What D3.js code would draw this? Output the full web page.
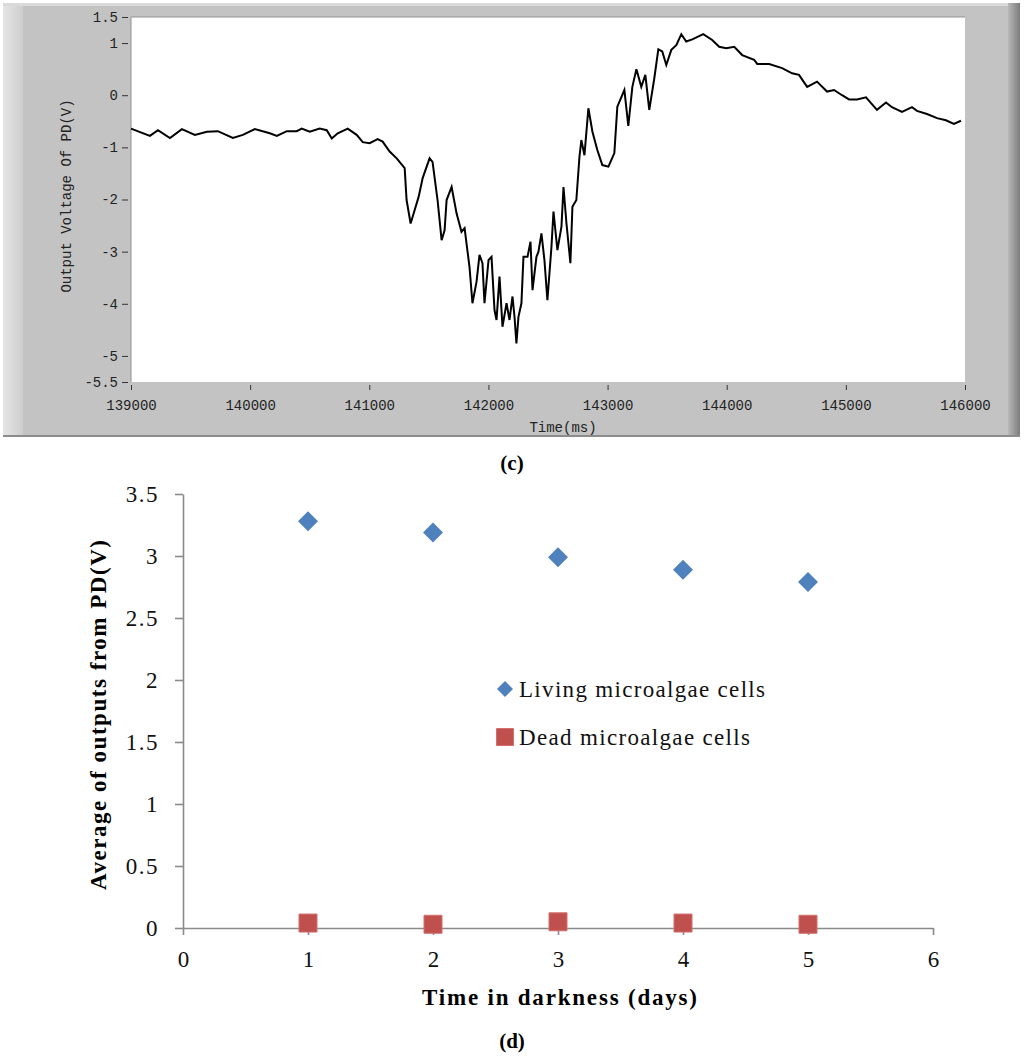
<!DOCTYPE html>
<html><head><meta charset="utf-8">
<script src="https://cdn.jsdelivr.net/npm/d3@7"></script>
<style>
html,body{margin:0;padding:0;background:#fff;}
svg{display:block;}
</style></head>
<body>
<svg id="chart" width="1024" height="1061"></svg>
<script>
// ---------- Panel (c) data: PD output trace ----------
const traceTime = [139000,139159,139226,139327,139427,139536,139637,139729,139855,139939,
140039,140165,140224,140308,140391,140433,140500,140584,140643,140685,140735,140819,140894,140945,
141003,141070,141112,141171,141230,141297,141313,141347,141381,141414,141448,141506,141531,141573,
141607,141632,141649,141691,141733,141774,141800,141816,141841,141866,141900,141925,141950,141967,
142001,142026,142051,142068,142093,142118,142152,142177,142202,142219,142235,142252,142277,142294,
142328,142353,142370,142403,142420,142445,142470,142495,142529,142546,142579,142613,142630,142655,
142688,142705,142738,142764,142780,142806,142839,142873,142914,142956,143007,143057,143082,143141,
143174,143208,143242,143283,143317,143350,143392,143426,143459,143493,143535,143577,143619,143660,
143711,143803,143878,143937,143996,144063,144130,144230,144256,144356,144465,144549,144607,144675,
144758,144842,144901,144968,145027,145094,145169,145261,145337,145387,145471,145555,145597,145681,
145765,145840,145907,145966];
const traceVolt = [-0.64,-0.78,-0.67,-0.82,-0.65,-0.76,-0.70,-0.69,-0.82,-0.76,
-0.65,-0.73,-0.78,-0.69,-0.69,-0.64,-0.70,-0.64,-0.67,-0.83,-0.73,-0.64,-0.76,-0.90,
-0.92,-0.84,-0.89,-1.08,-1.21,-1.40,-2.01,-2.46,-2.20,-1.95,-1.59,-1.21,-1.28,-2.01,
-2.78,-2.59,-2.01,-1.76,-2.27,-2.62,-2.55,-2.84,-3.29,-3.99,-3.58,-3.06,-3.22,-3.99,
-3.16,-3.10,-4.12,-4.31,-3.48,-4.44,-3.99,-4.31,-3.86,-4.25,-4.76,-4.25,-3.99,-3.10,
-3.10,-2.81,-3.74,-3.10,-3.00,-2.65,-3.16,-3.93,-2.91,-2.23,-2.97,-2.52,-1.76,-2.46,
-3.22,-2.14,-2.01,-1.18,-0.86,-1.15,-0.25,-0.70,-1.05,-1.34,-1.37,-1.11,-0.22,0.10,
-0.59,0.16,0.50,0.16,0.39,-0.28,0.32,0.88,0.84,0.58,0.87,0.96,1.17,1.03,
1.07,1.17,1.06,0.93,0.90,0.93,0.77,0.68,0.60,0.60,0.52,0.42,0.39,0.16,
0.26,0.07,0.10,0.00,-0.08,-0.08,-0.04,-0.28,-0.14,-0.23,-0.32,-0.23,-0.30,-0.36,
-0.44,-0.48,-0.55,-0.49];
const cXTicks = [139000,140000,141000,142000,143000,144000,145000,146000];
const cYTicks = [1.5,1,0,-1,-2,-3,-4,-5,-5.5];

// ---------- Panel (d) data ----------
const days = [1,2,3,4,5];
const living = [3.28,3.19,2.99,2.89,2.79];
const dead = [0.04,0.03,0.05,0.04,0.03];
const dXTicks = [0,1,2,3,4,5,6];
const dYTicks = [0,0.5,1,1.5,2,2.5,3,3.5];
const seriesNames = ["Living microalgae cells","Dead microalgae cells"];

const svg = d3.select("#chart");

// ================= Panel (c) =================
const defs = svg.append("defs");
const gl = defs.append("linearGradient").attr("id","lg").attr("x1","0").attr("x2","1");
gl.append("stop").attr("offset","0").attr("stop-color","#e6e6e6");
gl.append("stop").attr("offset","1").attr("stop-color","#cdcdcd");
const gr = defs.append("linearGradient").attr("id","rg").attr("x1","0").attr("x2","1");
gr.append("stop").attr("offset","0").attr("stop-color","#b8b8b8");
gr.append("stop").attr("offset","1").attr("stop-color","#7c7c7c");

svg.append("rect").attr("x",3).attr("y",3).attr("width",1017).attr("height",434).attr("fill","#c3c3c3");
svg.append("rect").attr("x",3).attr("y",3).attr("width",20).attr("height",434).attr("fill","url(#lg)");
svg.append("rect").attr("x",3).attr("y",3).attr("width",1017).attr("height",3).attr("fill","#dadada");
svg.append("rect").attr("x",1008).attr("y",3).attr("width",12).attr("height",434).attr("fill","url(#rg)");
svg.append("rect").attr("x",3).attr("y",435).attr("width",1017).attr("height",2).attr("fill","#8c8c8c");

const cx = d3.scaleLinear().domain([139000,146000]).range([131,965]);
const cy = d3.scaleLinear().domain([-5.5,1.5]).range([382,17]);

svg.append("rect").attr("x",131).attr("y",17).attr("width",834).attr("height",365)
  .attr("fill","#fff");
svg.append("path").attr("d","M131,382V17H965").attr("fill","none").attr("stroke","#909090").attr("stroke-width",1);

const monoFont = "Liberation Mono";

const cyAxis = svg.append("g").attr("transform","translate(128,0)")
  .call(d3.axisLeft(cy).tickValues(cYTicks).tickSize(6).tickPadding(4).tickFormat(d=>String(d)));
const cxAxis = svg.append("g").attr("transform","translate(0,385)")
  .call(d3.axisBottom(cx).tickValues(cXTicks).tickSize(5).tickPadding(10).tickFormat(d=>String(d)));
[cyAxis,cxAxis].forEach(a=>{
  a.attr("font-family",monoFont).attr("font-size",14);
  a.select(".domain").remove();
  a.selectAll("line").attr("stroke","#333").attr("stroke-width",1);
  a.selectAll("text").attr("fill","#222");
});

svg.append("text").attr("x",563).attr("y",432).attr("text-anchor","middle")
  .attr("font-family",monoFont).attr("font-size",14).attr("fill","#222").text("Time(ms)");
svg.append("text").attr("transform","translate(71,196) rotate(-90)").attr("text-anchor","middle")
  .attr("font-family",monoFont).attr("font-size",14).attr("fill","#222").text("Output Voltage Of PD(V)");

const traceData = traceTime.map((t,i)=>({t, v: traceVolt[i]}));
svg.append("path").datum(traceData)
  .attr("d", d3.line().x(d=>cx(d.t)).y(d=>cy(d.v)))
  .attr("fill","none").attr("stroke","#000").attr("stroke-width",2).attr("stroke-linejoin","miter");

const serif = "Liberation Serif";
svg.append("text").attr("x",512).attr("y",470).attr("text-anchor","middle")
  .attr("font-family",serif).attr("font-size",21).attr("font-weight","bold").text("(c)");

// ================= Panel (d) =================
const dx = d3.scaleLinear().domain([0,6]).range([183,933]);
const dy = d3.scaleLinear().domain([0,3.5]).range([928,494]);
const axisColor = "#8a8a8a";

const dyAxis = svg.append("g").attr("transform","translate(183,0)")
  .call(d3.axisLeft(dy).tickValues(dYTicks).tickSize(8).tickSizeOuter(0).tickPadding(16).tickFormat(d=>String(d)));
const dxAxis = svg.append("g").attr("transform","translate(0,928)")
  .call(d3.axisBottom(dx).tickValues(dXTicks).tickSize(7).tickSizeOuter(0).tickPadding(16).tickFormat(d=>String(d)));
[dyAxis,dxAxis].forEach(a=>{
  a.attr("font-family",serif).attr("font-size",23);
  a.select(".domain").attr("stroke",axisColor).attr("stroke-width",1.6);
  a.selectAll("line").attr("stroke",axisColor).attr("stroke-width",1.6);
  a.selectAll("text").attr("fill","#111");
});
dyAxis.selectAll("text").attr("letter-spacing","1.5");

svg.append("g").selectAll("path.dead").data(days.map((d,i)=>({d, v: dead[i]})))
  .join("path")
  .attr("transform",p=>`translate(${dx(p.d)},${dy(p.v)})`)
  .attr("d", d3.symbol(d3.symbolSquare, 324)())
  .attr("fill","#C0504D").attr("stroke","#d2706d").attr("stroke-width",1);

svg.append("g").selectAll("path.live").data(days.map((d,i)=>({d, v: living[i]})))
  .join("path")
  .attr("transform",p=>`translate(${dx(p.d)},${dy(p.v)}) rotate(45)`)
  .attr("d", d3.symbol(d3.symbolSquare, 200)())
  .attr("fill","#4F81BD");

// legend
svg.append("path").attr("transform","translate(505,689) rotate(45)")
  .attr("d", d3.symbol(d3.symbolSquare, 128)()).attr("fill","#4F81BD");
svg.append("path").attr("transform","translate(505,737)")
  .attr("d", d3.symbol(d3.symbolSquare, 289)()).attr("fill","#C0504D").attr("stroke","#d2706d");
svg.append("text").attr("x",519).attr("y",697).attr("textLength",246).attr("lengthAdjust","spacing")
  .attr("font-family",serif).attr("font-size",23).attr("fill","#111").text(seriesNames[0]);
svg.append("text").attr("x",519).attr("y",745).attr("textLength",231).attr("lengthAdjust","spacing")
  .attr("font-family",serif).attr("font-size",23).attr("fill","#111").text(seriesNames[1]);

svg.append("text").attr("x",422).attr("y",1005).attr("textLength",275).attr("lengthAdjust","spacing")
  .attr("font-family",serif).attr("font-size",23).attr("font-weight","bold").text("Time in darkness (days)");
svg.append("text").attr("transform","translate(106,890) rotate(-90)").attr("textLength",350).attr("lengthAdjust","spacing")
  .attr("font-family",serif).attr("font-size",23).attr("font-weight","bold").text("Average of outputs from PD(V)");
svg.append("text").attr("x",512).attr("y",1048).attr("text-anchor","middle")
  .attr("font-family",serif).attr("font-size",21).attr("font-weight","bold").text("(d)");
</script>
</body></html>
